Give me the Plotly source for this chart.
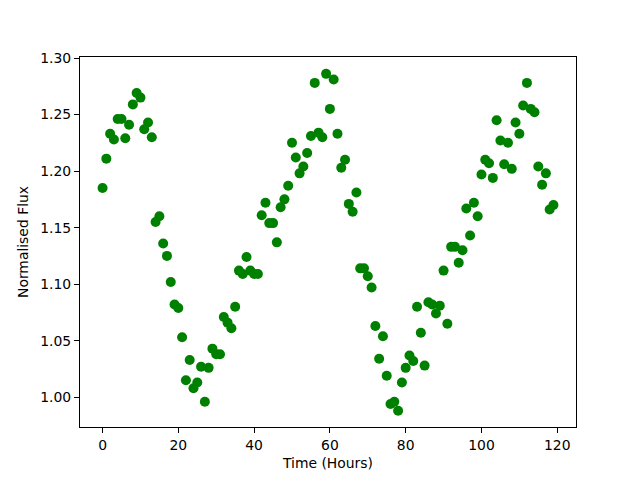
import plotly.graph_objects as go

hours = list(range(120))
flux = [
    1.185, 1.211, 1.233, 1.228, 1.246, 1.246, 1.229, 1.241, 1.259, 1.269,
    1.265, 1.237, 1.243, 1.230, 1.155, 1.160, 1.136, 1.125, 1.102, 1.082,
    1.079, 1.053, 1.015, 1.033, 1.008, 1.013, 1.027, 0.996, 1.026, 1.043,
    1.038, 1.038, 1.071, 1.066, 1.061, 1.080, 1.112, 1.109, 1.124, 1.112,
    1.109, 1.109, 1.161, 1.172, 1.154, 1.154, 1.137, 1.168, 1.175, 1.187,
    1.225, 1.212, 1.198, 1.204, 1.216, 1.231, 1.278, 1.234, 1.230, 1.286,
    1.255, 1.281, 1.233, 1.203, 1.210, 1.171, 1.164, 1.181, 1.114, 1.114,
    1.107, 1.097, 1.063, 1.034, 1.054, 1.019, 0.994, 0.996, 0.988, 1.013,
    1.026, 1.037, 1.032, 1.080, 1.057, 1.028, 1.084, 1.082, 1.074, 1.081,
    1.112, 1.065, 1.133, 1.133, 1.119, 1.130, 1.167, 1.143, 1.172, 1.160,
    1.197, 1.210, 1.207, 1.194, 1.245, 1.227, 1.206, 1.225, 1.202, 1.243,
    1.233, 1.258, 1.278, 1.255, 1.252, 1.204, 1.188, 1.198, 1.166, 1.170,
]

fig = go.Figure(go.Scatter(
    x=hours,
    y=flux,
    mode='markers',
    marker=dict(color='#008000', size=10),
))

axis_style = dict(
    showline=True,
    linecolor='black',
    linewidth=1,
    mirror=True,
    ticks='outside',
    ticklen=5,
    tickcolor='black',
    showgrid=False,
    zeroline=False,
    automargin=False,
    tickfont=dict(size=13.9, color='black'),
)

fig.update_layout(
    width=640,
    height=480,
    plot_bgcolor='white',
    paper_bgcolor='white',
    font=dict(family='DejaVu Sans', size=13.9, color='black'),
    margin=dict(l=80, r=64, t=57, b=53),
    showlegend=False,
    xaxis=dict(title=dict(text='Time (Hours)', standoff=6, font=dict(size=13.9)),
               range=[-5.95, 124.95],
               tickvals=[0, 20, 40, 60, 80, 100, 120], **axis_style),
    yaxis=dict(title=dict(text='Normalised Flux', standoff=8, font=dict(size=13.9)),
               range=[0.9737, 1.3009],
               tickvals=[1.00, 1.05, 1.10, 1.15, 1.20, 1.25, 1.30], tickformat='.2f',
               **axis_style),
)

# drop the page's default body margin so the figure sits at the window corner
fig.write_html('out.html', config={'displayModeBar': False},
               post_script="document.body.style.margin='0';")
